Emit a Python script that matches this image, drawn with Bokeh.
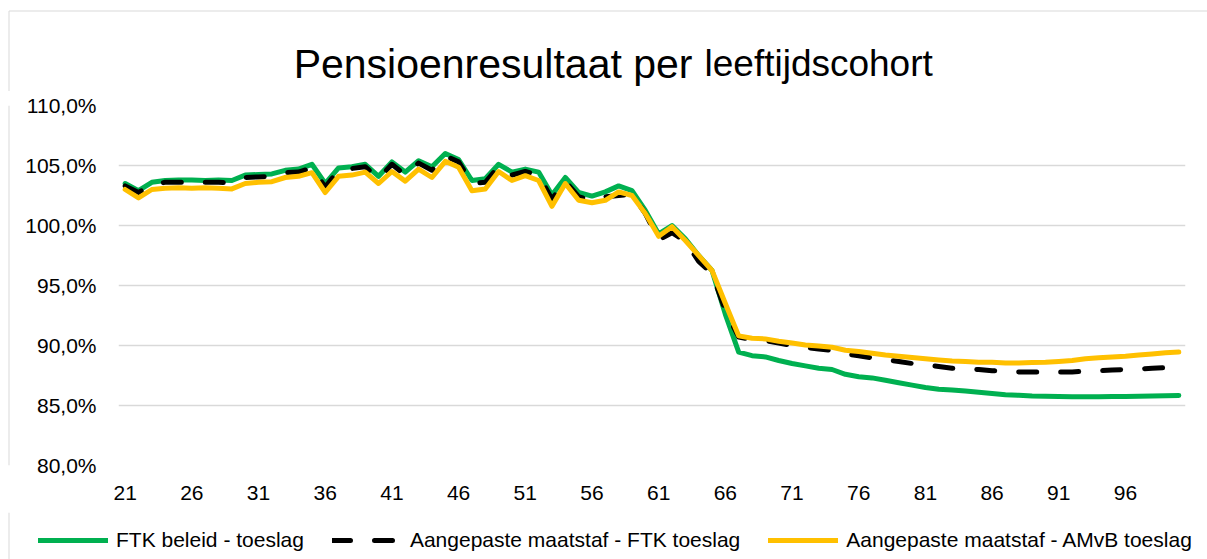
from bokeh.plotting import figure
from bokeh.layouts import column, row
from bokeh.models import Range1d, FixedTicker, Legend, LegendItem
from bokeh.core.properties import value
from bokeh.embed import file_html
from bokeh.resources import INLINE

ages = list(range(21, 101))

ftk_beleid = [
    103.5, 102.9, 103.6, 103.75, 103.8, 103.8, 103.75, 103.8, 103.75, 104.2,
    104.25, 104.3, 104.6, 104.7, 105.1, 103.5, 104.8, 104.9, 105.1, 104.1,
    105.3, 104.45, 105.4, 104.9, 106.0, 105.5, 103.75, 103.9, 105.1, 104.45,
    104.7, 104.45, 102.55, 104.0, 102.75, 102.45, 102.8, 103.3, 102.9, 101.25,
    99.3, 100.0, 98.9, 97.5, 96.25, 92.6, 89.45, 89.15, 89.05, 88.75,
    88.5, 88.3, 88.1, 88.0, 87.6, 87.4, 87.3, 87.1, 86.9, 86.7,
    86.5, 86.35, 86.3, 86.2, 86.1, 86.0, 85.9, 85.85, 85.8, 85.78,
    85.75, 85.73, 85.72, 85.73, 85.75, 85.76, 85.78, 85.8, 85.82, 85.83,
]

aangepaste_ftk = [
    103.3, 102.75, 103.4, 103.6, 103.6, 103.6, 103.6, 103.6, 103.55, 104.0,
    104.05, 104.1, 104.4, 104.45, 104.8, 103.2, 104.6, 104.75, 104.9, 103.9,
    105.1, 104.2, 105.2, 104.6, 105.8, 105.3, 103.5, 103.6, 104.9, 104.2,
    104.5, 104.2, 102.2, 103.7, 102.4, 102.1, 102.4, 102.5, 102.6, 101.0,
    98.8, 99.4, 98.7, 97.0, 96.0, 92.9, 90.7, 90.5, 90.4, 90.2,
    90.0, 89.85, 89.7, 89.6, 89.3, 89.15, 88.97, 88.8, 88.67, 88.5,
    88.4, 88.25, 88.1, 88.05, 88.0, 87.9, 87.85, 87.8, 87.8, 87.8,
    87.8, 87.8, 87.85, 87.9, 87.95, 88.0, 88.05, 88.1, 88.15, 88.2,
]

aangepaste_amvb = [
    103.0, 102.3, 103.0, 103.1, 103.15, 103.1, 103.15, 103.1, 103.05, 103.5,
    103.6, 103.65, 104.0, 104.1, 104.4, 102.75, 104.1, 104.2, 104.45, 103.5,
    104.5, 103.7, 104.7, 104.0, 105.35, 104.85, 102.9, 103.05, 104.5, 103.75,
    104.15, 103.75, 101.6, 103.5, 102.1, 101.9, 102.1, 102.8, 102.5, 101.0,
    99.1, 99.9, 98.75, 97.5, 96.25, 93.5, 90.8, 90.6, 90.55, 90.35,
    90.2, 90.05, 89.95, 89.85, 89.6, 89.5, 89.35, 89.2, 89.1, 89.0,
    88.9, 88.8, 88.7, 88.67, 88.6, 88.6, 88.55, 88.55, 88.58, 88.6,
    88.67, 88.75, 88.9, 88.97, 89.05, 89.1, 89.2, 89.3, 89.4, 89.45,
]

series_names = [
    "FTK beleid - toeslag",
    "Aangepaste maatstaf - FTK toeslag",
    "Aangepaste maatstaf - AMvB toeslag",
]
series_colors = ["#00B050", "#000000", "#FFC000"]
series_dash = ["solid", "18 24", "solid"]

x_ticks = [21, 26, 31, 36, 41, 46, 51, 56, 61, 66, 71, 76, 81, 86, 91, 96]
x_tick_labels = ["21", "26", "31", "36", "41", "46", "51", "56",
                 "61", "66", "71", "76", "81", "86", "91", "96"]
y_ticks = [80, 85, 90, 95, 100, 105, 110]
y_tick_labels = ["80,0%", "85,0%", "90,0%", "95,0%", "100,0%", "105,0%", "110,0%"]

title_main = "Pensioenresultaat per"
title_sub = "leeftijdscohort"

FONT = "Liberation Sans"
BORDER = "#d9d9d9"

PAGE_W = 1207
TH = 91      # title strip height
MH = 421     # main chart height
LH = 47      # legend strip height
SW = 20      # left border strip width


def bare(width, height):
    f = figure(width=width, height=height, output_backend="svg", toolbar_location=None,
               x_range=Range1d(0, width), y_range=Range1d(0, height),
               min_border=0, x_axis_type=None, y_axis_type=None)
    f.outline_line_color = None
    f.grid.visible = False
    return f


# ---- title strip (with the chart's top/left border) ----
tp = bare(PAGE_W, TH)
tp.segment(x0=[8.5, 8.5], y0=[TH - 10.5, TH - 10.5], x1=[PAGE_W, 8.5], y1=[TH - 10.5, 0],
           line_color=BORDER, line_width=1)
tp.text(x=[692], y=[28], text=[title_main], text_align="right", text_baseline="alphabetic",
        text_font=value(FONT), text_font_size="41px", text_color="#000000")
tp.text(x=[704], y=[28], text=[title_sub], text_align="left", text_baseline="alphabetic",
        text_font=value(FONT), text_font_size="37px", text_color="#000000")

# ---- left border strip ----
sp = bare(SW, MH)
sp.segment(x0=[8.5], y0=[0], x1=[8.5], y1=[MH], line_color=BORDER, line_width=1)

# ---- main chart ----
p = figure(width=PAGE_W - SW, height=MH, output_backend="svg", toolbar_location=None,
           x_range=Range1d(20.5, 100.5), y_range=Range1d(80, 110),
           min_border_left=118 - SW, min_border_right=22,
           min_border_top=14, min_border_bottom=47)
p.outline_line_color = None

p.xaxis.ticker = FixedTicker(ticks=x_ticks)
p.xaxis.major_label_overrides = dict(zip(x_ticks, x_tick_labels))
p.yaxis.ticker = FixedTicker(ticks=y_ticks)
p.yaxis.major_label_overrides = dict(zip(y_ticks, y_tick_labels))
for ax in (p.xaxis, p.yaxis):
    ax.axis_line_color = None
    ax.major_tick_line_color = None
    ax.minor_tick_line_color = None
    ax.major_tick_out = 0
    ax.major_tick_in = 0
    ax.major_label_text_font = FONT
    ax.major_label_text_font_size = "21px"
    ax.major_label_text_color = "#000000"
p.xaxis.major_label_standoff = 20
p.yaxis.major_label_standoff = 22

p.xgrid.grid_line_color = None
p.ygrid.ticker = FixedTicker(ticks=y_ticks)
p.ygrid.grid_line_color = BORDER
p.ygrid.grid_line_width = 1.5

series = [ftk_beleid, aangepaste_ftk, aangepaste_amvb]
for vals, col, dash in zip(series, series_colors, series_dash):
    p.line(ages, vals, line_color=col, line_width=5, line_dash=dash,
           line_join="round", line_cap="round")

# ---- legend strip (same series, outside this strip's visible range) ----
lf = bare(PAGE_W, LH)
lf.segment(x0=[8.5], y0=[0], x1=[8.5], y1=[LH], line_color=BORDER, line_width=1)
items = []
for name, vals, col, dash in zip(series_names, series, series_colors, series_dash):
    rr = lf.line(ages, vals, line_color=col, line_width=5, line_dash=dash, line_cap="round")
    items.append(LegendItem(label=name, renderers=[rr]))
legend = Legend(items=items, orientation="horizontal", location=(38, 7),
                glyph_width=70, glyph_height=20, label_standoff=8, spacing=28,
                padding=0, margin=0,
                label_text_font=FONT, label_text_font_size="21px", label_text_color="#000000",
                border_line_color=None, background_fill_alpha=0)
lf.add_layout(legend, "center")

layout = column(tp, row(sp, p), lf)

open("out.html", "w").write(file_html(layout, INLINE))
